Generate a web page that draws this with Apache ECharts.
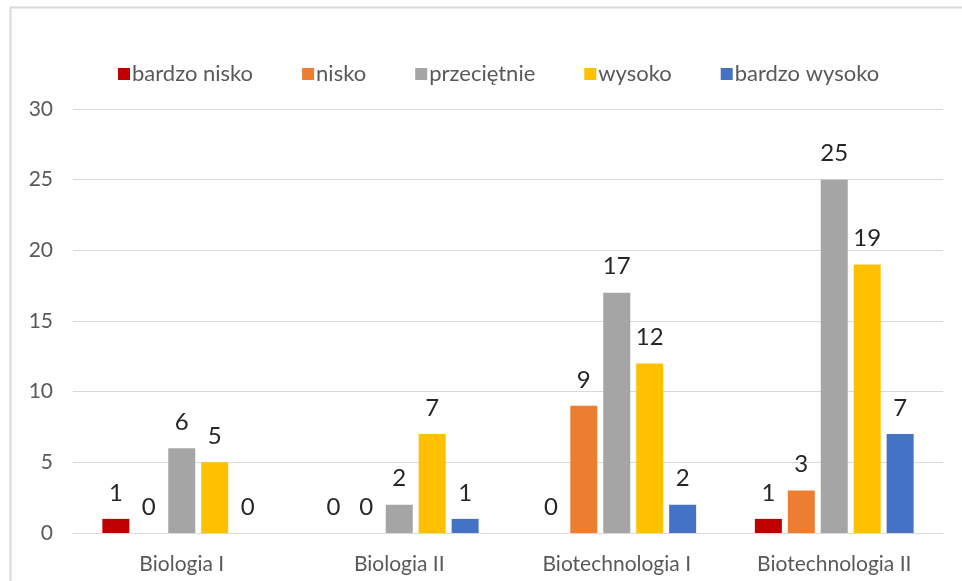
<!DOCTYPE html>
<html>
<head>
<meta charset="utf-8">
<script src="https://cdn.jsdelivr.net/npm/echarts@6/dist/echarts.min.js"></script>
<style>
  html, body { margin: 0; padding: 0; background: #fff; }
  #chart { width: 962px; height: 581px; }
</style>
</head>
<body>
<div id="chart"></div>
<script>
// categories and series
var categories = ['Biologia I', 'Biologia II', 'Biotechnologia I', 'Biotechnologia II']
var bardzoNisko = [1, 0, 0, 1]
var nisko = [0, 0, 9, 3]
var przecietnie = [6, 2, 17, 25]
var wysoko = [5, 7, 12, 19]
var bardzoWysoko = [0, 1, 2, 7]
var yTicks = [0, 5, 10, 15, 20, 25, 30]

var seriesDefs = [
  { name: 'bardzo nisko', data: bardzoNisko, color: '#c00000' },
  { name: 'nisko', data: nisko, color: '#ed7d31' },
  { name: 'przeciętnie', data: przecietnie, color: '#a5a5a5' },
  { name: 'wysoko', data: wysoko, color: '#ffc000' },
  { name: 'bardzo wysoko', data: bardzoWysoko, color: '#4472c4' }
]

var font = 'Lato, "Open Sans", sans-serif'
var chart = echarts.init(document.getElementById('chart'), null, { renderer: 'canvas' })

chart.setOption({
  backgroundColor: '#fff',
  animation: false,
  textStyle: { fontFamily: font },
  graphic: [{
    type: 'rect',
    shape: { x: 10.5, y: 7.5, width: 980, height: 600 },
    style: { fill: 'none', stroke: '#d9d9d9', lineWidth: 2 },
    silent: true
  }],
  legend: {
    top: 58,
    left: 113,
    itemWidth: 12,
    itemHeight: 12,
    itemGap: 49,
    icon: 'rect',
    textStyle: { fontSize: 22, color: '#595959', fontFamily: font, padding: [0, 0, 0, -3] },
    data: seriesDefs.map(function (s) { return s.name })
  },
  grid: { left: 73, right: 19, top: 109, bottom: 48, containLabel: false },
  xAxis: {
    type: 'category',
    data: categories,
    axisLine: { lineStyle: { color: '#d9d9d9', width: 1 } },
    axisTick: { show: false },
    axisLabel: { fontSize: 21, color: '#595959', margin: 21, fontFamily: font }
  },
  yAxis: {
    type: 'value',
    min: yTicks[0],
    max: yTicks[yTicks.length - 1],
    interval: 5,
    axisLine: { show: false },
    axisTick: { show: false },
    splitLine: { lineStyle: { color: '#d9d9d9', width: 1 } },
    axisLabel: { fontSize: 21, color: '#595959', margin: 20, fontFamily: font }
  },
  series: seriesDefs.map(function (s) {
    return {
      type: 'bar',
      name: s.name,
      data: s.data,
      itemStyle: { color: s.color },
      barGap: '22%',
      barCategoryGap: '27%',
      label: {
        show: true,
        position: 'top',
        distance: 14,
        fontSize: 24,
        color: '#262626',
        fontFamily: font
      }
    }
  })
})
</script>
</body>
</html>
